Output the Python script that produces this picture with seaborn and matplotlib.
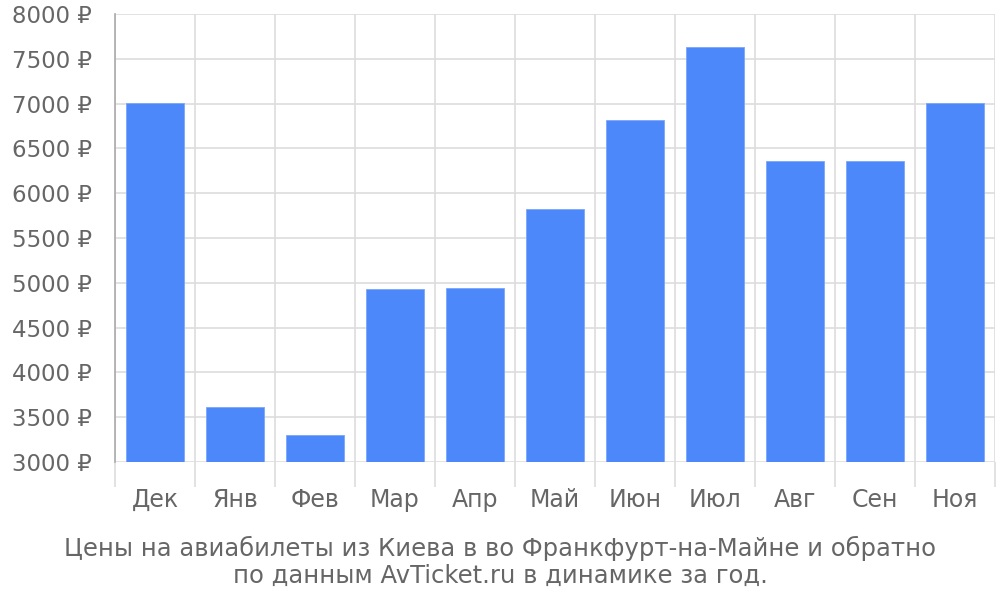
import pandas as pd
import matplotlib.pyplot as plt
import seaborn as sns
import numpy as np

months = ['Дек', 'Янв', 'Фев', 'Мар', 'Апр', 'Май', 'Июн', 'Июл', 'Авг', 'Сен', 'Ноя']
prices = [7010, 3615, 3300, 4932, 4945, 5825, 6820, 7635, 6360, 6360, 7010]
yticks = [3000, 3500, 4000, 4500, 5000, 5500, 6000, 6500, 7000, 7500, 8000]
caption = 'Цены на авиабилеты из Киева в во Франкфурт-на-Майне и обратно\nпо данным AvTicket.ru в динамике за год.'

df = pd.DataFrame({'month': months, 'price': prices})

sns.set_theme(style='white')
plt.rcParams['font.family'] = ['DejaVu Sans']

fig = plt.figure(figsize=(10, 6), dpi=100)
ax = fig.add_axes([0.115, 0.23, 0.88, 0.7467])

sns.barplot(data=df, x='month', y='price', color='#4d88fb', saturation=1,
            width=0.72, ax=ax, edgecolor='#7aa6fb', linewidth=0.6)

ax.set_ylim(3000, 8000)
ax.set_xlim(-0.5, len(months) - 0.5)
ax.set_yticks(yticks)
ax.set_yticklabels([f'{v} ₽' for v in yticks])
ax.set_xticks(range(len(months)))
ax.set_xticklabels(months)
ax.set_xticks(np.arange(-0.5, len(months)), minor=True)

ax.grid(axis='y', color='#dddddd', linewidth=1.2)
ax.grid(axis='x', which='minor', color='#dddddd', linewidth=1.2)
ax.set_axisbelow(True)

ax.tick_params(axis='x', which='major', bottom=False, length=0, pad=19,
               labelsize=17, labelcolor='#666666')
ax.tick_params(axis='x', which='minor', bottom=True, length=18, width=1.2, color='#dddddd')
ax.tick_params(axis='y', length=0, pad=16.5, labelsize=16.5, labelcolor='#666666')

for s in ['top', 'right', 'bottom']:
    ax.spines[s].set_visible(False)
ax.spines['left'].set_color('#aaaaaa')
ax.spines['left'].set_linewidth(1.2)
ax.set_xlabel('')
ax.set_ylabel('')

fig.text(0.5, 1 - 562 / 600, caption, ha='center', va='center',
         fontsize=17.5, color='#666666', linespacing=1.15)

fig.savefig('out.png', dpi=100)
